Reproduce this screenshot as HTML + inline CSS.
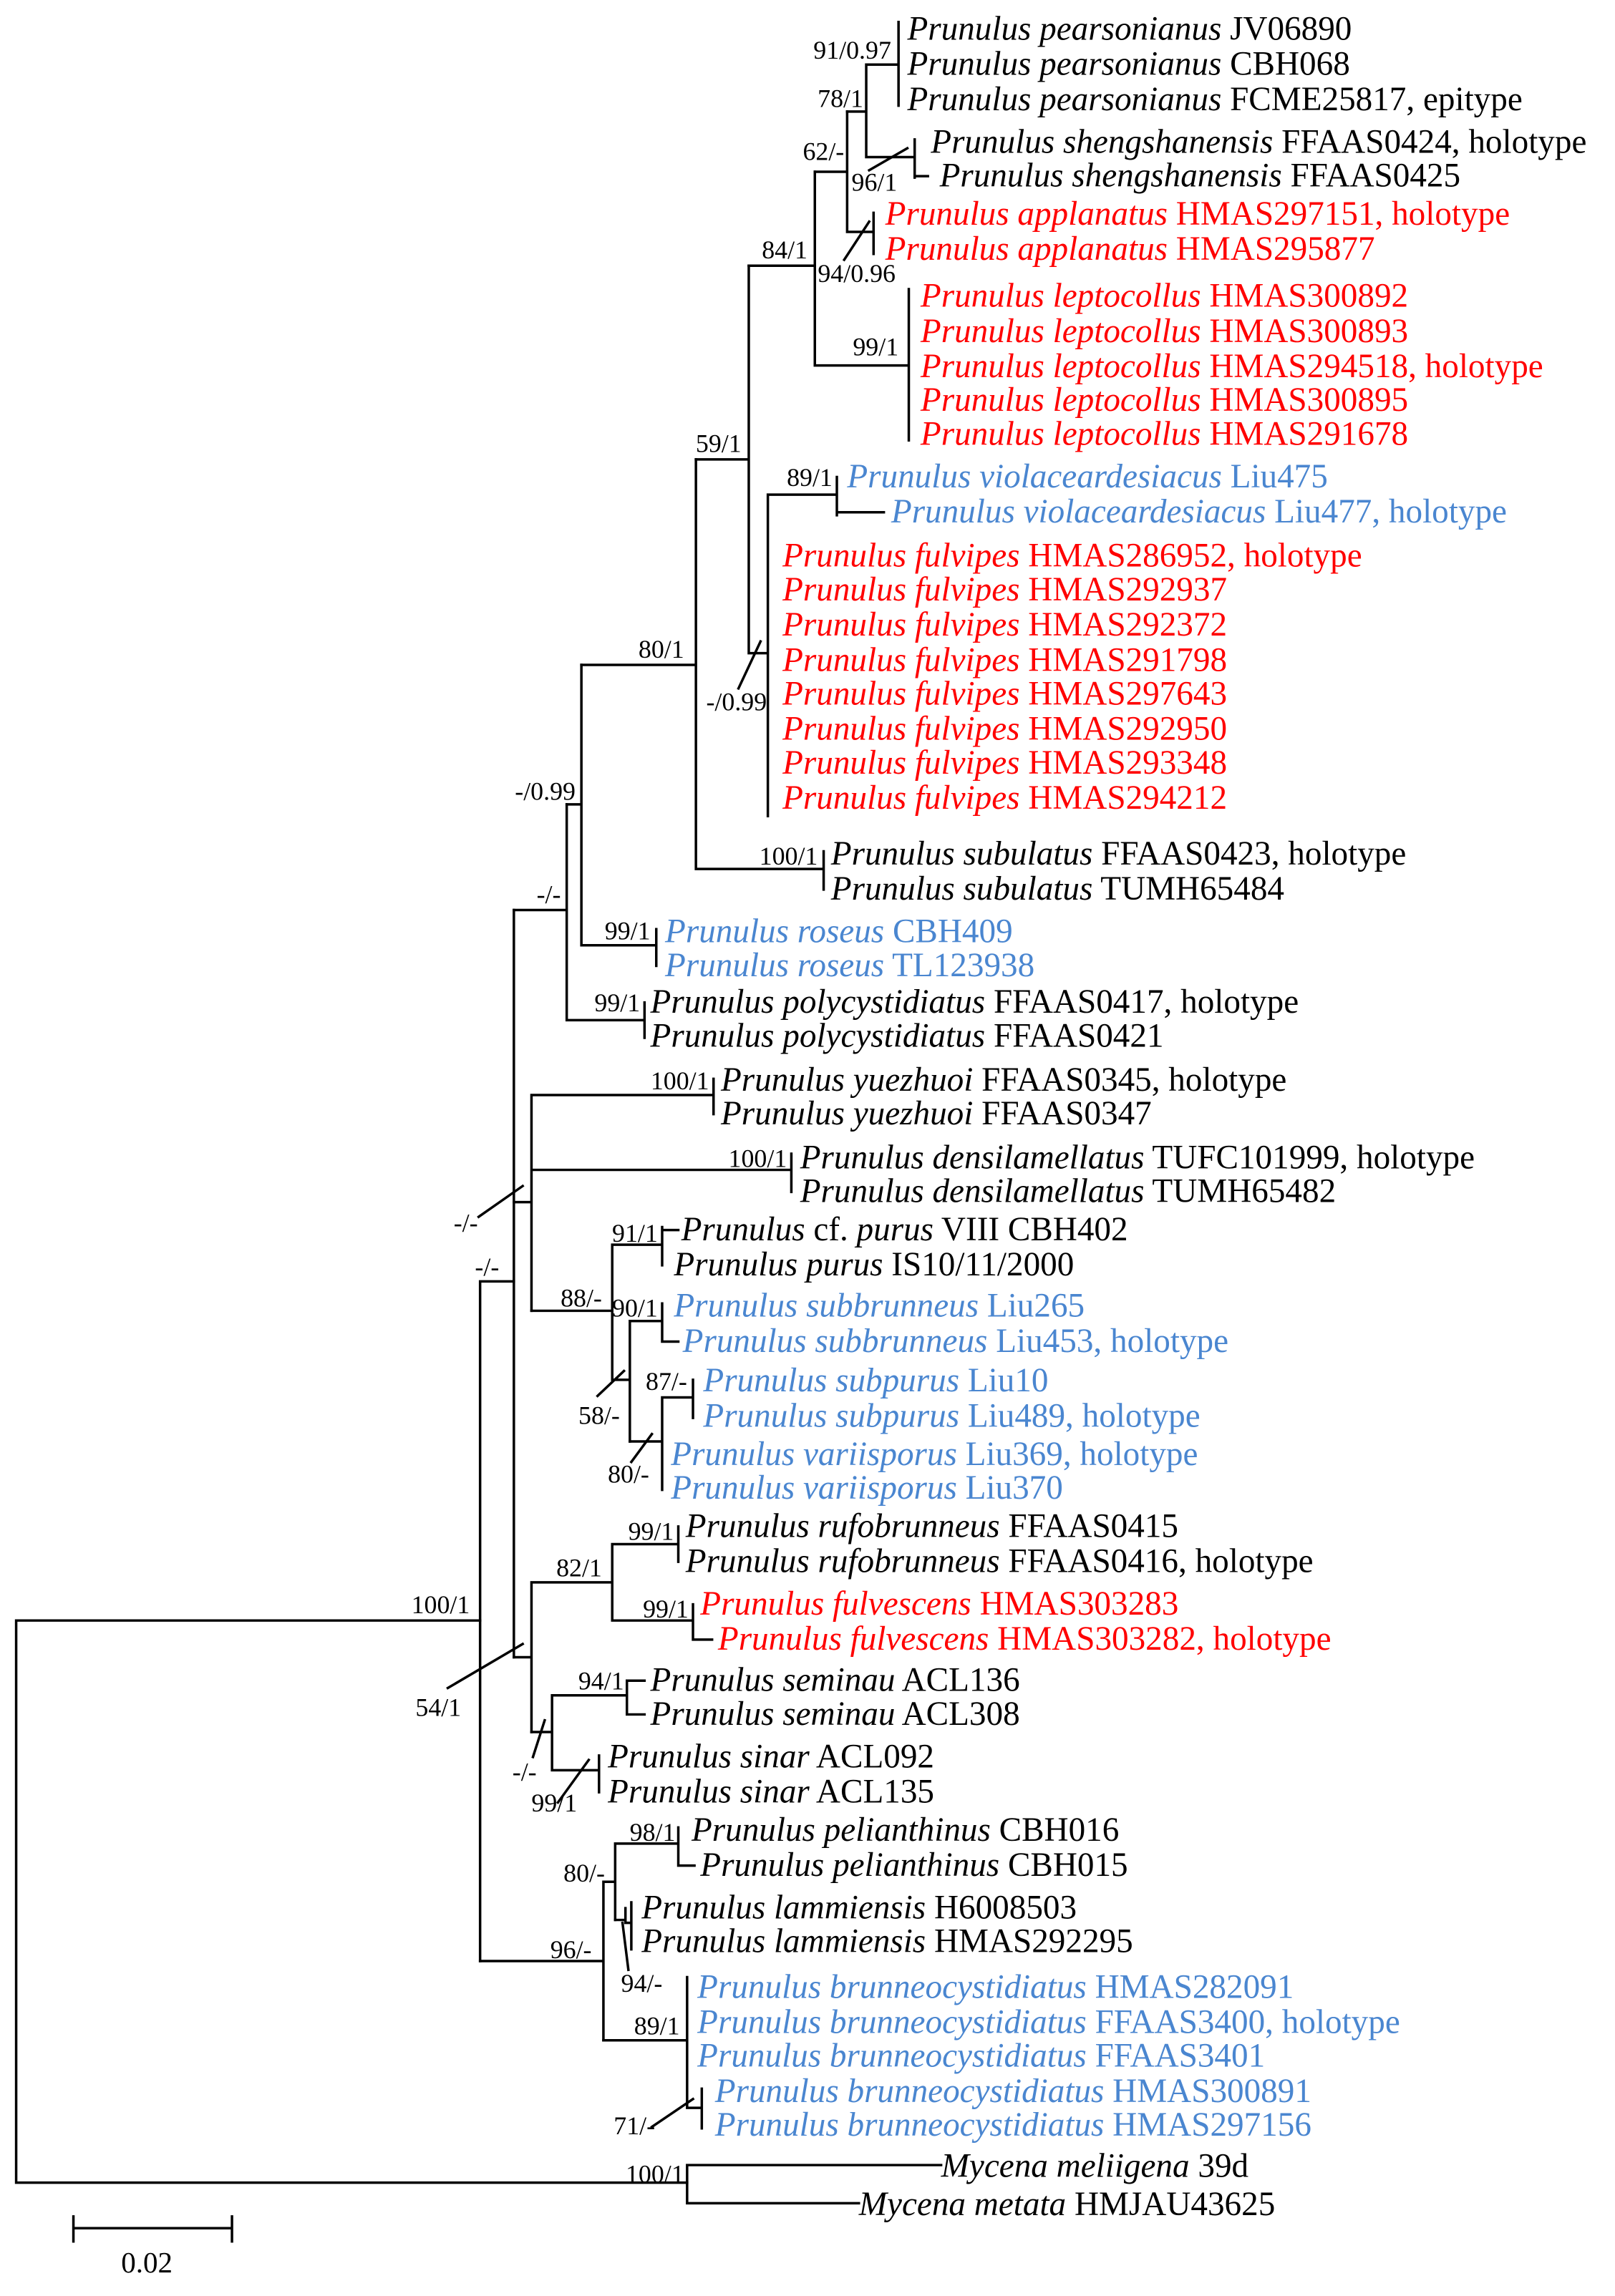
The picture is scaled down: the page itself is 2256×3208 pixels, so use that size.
<!DOCTYPE html>
<html><head><meta charset="utf-8"><style>
html,body{margin:0;padding:0;background:#fff}
svg{display:block}
text{font-family:"Liberation Serif",serif}
.l{font-size:23px}
.s{font-size:17.5px}
.r{fill:#ff0000}.b{fill:#4a86d0}
</style></head><body>
<svg width="2256" height="3208" viewBox="0 0 1100 1564.2" xmlns="http://www.w3.org/2000/svg">
<g stroke="#000" stroke-width="1.7" fill="none" stroke-linecap="square">
<!-- root -->
<path d="M11,1104 V1487 M11,1104 H327 M11,1487 H468"/>
<path d="M468,1475 V1501 M468,1475 H641 M468,1501 H585"/>
<!-- node A -->
<path d="M327,873 V1336 M327,873 H350"/>
<path d="M350,620 V1129"/>
<!-- node C -->
<path d="M350,620 H386 M386,548 V695 M386,695 H439 M439,683 V707"/>
<path d="M386,548 H396 M396,453 V644 M396,644 H447 M447,633 V658"/>
<path d="M396,453 H474 M474,313 V592 M474,592 H561 M561,580 V606"/>
<path d="M474,313 H510 M510,181 V445 M510,445 H523 M523,337 V556 M523,337 H570 M570,325 V351 M570,349 H602"/>
<path d="M510,181 H555 M555,117 V249 M555,249 H619 M619,197 V300"/>
<path d="M555,117 H577 M577,76 V158 M577,158 H595 M595,145 V173"/>
<path d="M577,76 H590 M590,44 V107 M590,44 H612 M612,15 V72 M590,107 H623 M623,95 V121 M623,120 H632"/>
<!-- node E -->
<path d="M350,819 H362 M362,746 V893 M362,746 H486 M486,735 V759 M362,797 H539 M539,786 V812"/>
<path d="M362,893 H417 M417,848 V940 M417,848 H451 M451,836 V862 M451,838 H462"/>
<path d="M417,940 H429 M429,900 V982 M429,900 H451 M451,888 V914 M451,914 H462"/>
<path d="M429,982 H451 M451,952 V1015 M451,952 H472 M472,940 V966"/>
<!-- node I -->
<path d="M350,1129 H362 M362,1078 V1180 M362,1078 H417 M417,1052 V1104 M417,1052 H462 M462,1040 V1064 M417,1104 H472 M472,1093 V1117 M472,1117 H485"/>
<path d="M362,1180 H376 M376,1155 V1206 M376,1155 H427 M427,1145 V1168 M427,1145 H439 M427,1168 H439 M376,1206 H408 M408,1196 V1221"/>
<!-- node L -->
<path d="M327,1336 H411 M411,1282 V1390 M411,1282 H419 M419,1256 V1308 M419,1256 H462 M462,1245 V1271 M462,1271 H473"/>
<path d="M419,1308 H426 M430,1296 V1328 M426,1300 V1310 M426,1310 H430"/>
<path d="M411,1390 H468 M468,1347 V1436 M468,1436 H478 M478,1423 V1450"/>
<!-- slashes -->
<path d="M592,116 L618,101 M575,177 L592,151 M503,469 L518,437 M326,829 L356,808 M407,951 L425,934 M430,996 L444,977 M305,1150 L356,1120 M363,1197 L371,1172 M380,1228 L401,1199 M428,1342 L424,1310 M444,1449 L472,1430"/>
<!-- scale -->
<path d="M50,1518 H158 M50,1510 V1527 M158,1510 V1527"/>
</g>
<text class="s" x="100" y="1548" text-anchor="middle" style="font-size:20px">0.02</text>
<g class="s" text-anchor="end">
<text x="607" y="40">91/0.97</text>
<text x="588" y="73">78/1</text>
<text x="575" y="109">62/-</text>
<text x="550" y="176">84/1</text>
<text x="612" y="242">99/1</text>
<text x="505" y="308">59/1</text>
<text x="567" y="331">89/1</text>
<text x="466" y="448">80/1</text>
<text x="392" y="545">-/0.99</text>
<text x="557" y="589">100/1</text>
<text x="382" y="615">-/-</text>
<text x="443" y="640">99/1</text>
<text x="436" y="689">99/1</text>
<text x="483" y="742">100/1</text>
<text x="536" y="795">100/1</text>
<text x="340" y="869">-/-</text>
<text x="448" y="846">91/1</text>
<text x="410" y="890">88/-</text>
<text x="448" y="897">90/1</text>
<text x="468" y="947">87/-</text>
<text x="459" y="1049">99/1</text>
<text x="410" y="1074">82/1</text>
<text x="469" y="1102">99/1</text>
<text x="320" y="1099">100/1</text>
<text x="425" y="1151">94/1</text>
<text x="460" y="1254">98/1</text>
<text x="412" y="1282">80/-</text>
<text x="403" y="1334">96/-</text>
<text x="463" y="1386">89/1</text>
<text x="466" y="1487">100/1</text>
</g>
<g class="s">
<text x="580" y="130">96/1</text>
<text x="557" y="192">94/0.96</text>
<text x="481" y="484">-/0.99</text>
<text x="309" y="839">-/-</text>
<text x="394" y="970">58/-</text>
<text x="414" y="1010">80/-</text>
<text x="283" y="1169">54/1</text>
<text x="349" y="1213">-/-</text>
<text x="362" y="1234">99/1</text>
<text x="423" y="1357">94/-</text>
<text x="418" y="1454">71/-</text>
</g>
<g class="l">
<text x="618" y="27"><tspan font-style="italic">Prunulus pearsonianus</tspan> JV06890</text>
<text x="618" y="51"><tspan font-style="italic">Prunulus pearsonianus</tspan> CBH068</text>
<text x="618" y="75"><tspan font-style="italic">Prunulus pearsonianus</tspan> FCME25817, epitype</text>
<text x="634" y="104"><tspan font-style="italic">Prunulus shengshanensis</tspan> FFAAS0424, holotype</text>
<text x="640" y="127"><tspan font-style="italic">Prunulus shengshanensis</tspan> FFAAS0425</text>
<text class="r" x="603" y="153"><tspan font-style="italic">Prunulus applanatus</tspan> HMAS297151, holotype</text>
<text class="r" x="603" y="177"><tspan font-style="italic">Prunulus applanatus</tspan> HMAS295877</text>
<text class="r" x="627" y="209"><tspan font-style="italic">Prunulus leptocollus</tspan> HMAS300892</text>
<text class="r" x="627" y="233"><tspan font-style="italic">Prunulus leptocollus</tspan> HMAS300893</text>
<text class="r" x="627" y="257"><tspan font-style="italic">Prunulus leptocollus</tspan> HMAS294518, holotype</text>
<text class="r" x="627" y="280"><tspan font-style="italic">Prunulus leptocollus</tspan> HMAS300895</text>
<text class="r" x="627" y="303"><tspan font-style="italic">Prunulus leptocollus</tspan> HMAS291678</text>
<text class="b" x="577" y="332"><tspan font-style="italic">Prunulus violaceardesiacus</tspan> Liu475</text>
<text class="b" x="607" y="356"><tspan font-style="italic">Prunulus violaceardesiacus</tspan> Liu477, holotype</text>
<text class="r" x="533" y="386"><tspan font-style="italic">Prunulus fulvipes</tspan> HMAS286952, holotype</text>
<text class="r" x="533" y="409"><tspan font-style="italic">Prunulus fulvipes</tspan> HMAS292937</text>
<text class="r" x="533" y="433"><tspan font-style="italic">Prunulus fulvipes</tspan> HMAS292372</text>
<text class="r" x="533" y="457"><tspan font-style="italic">Prunulus fulvipes</tspan> HMAS291798</text>
<text class="r" x="533" y="480"><tspan font-style="italic">Prunulus fulvipes</tspan> HMAS297643</text>
<text class="r" x="533" y="504"><tspan font-style="italic">Prunulus fulvipes</tspan> HMAS292950</text>
<text class="r" x="533" y="527"><tspan font-style="italic">Prunulus fulvipes</tspan> HMAS293348</text>
<text class="r" x="533" y="551"><tspan font-style="italic">Prunulus fulvipes</tspan> HMAS294212</text>
<text x="566" y="589"><tspan font-style="italic">Prunulus subulatus</tspan> FFAAS0423, holotype</text>
<text x="566" y="613"><tspan font-style="italic">Prunulus subulatus</tspan> TUMH65484</text>
<text class="b" x="453" y="642"><tspan font-style="italic">Prunulus roseus</tspan> CBH409</text>
<text class="b" x="453" y="665"><tspan font-style="italic">Prunulus roseus</tspan> TL123938</text>
<text x="443" y="690"><tspan font-style="italic">Prunulus polycystidiatus</tspan> FFAAS0417, holotype</text>
<text x="443" y="713"><tspan font-style="italic">Prunulus polycystidiatus</tspan> FFAAS0421</text>
<text x="491" y="743"><tspan font-style="italic">Prunulus yuezhuoi</tspan> FFAAS0345, holotype</text>
<text x="491" y="766"><tspan font-style="italic">Prunulus yuezhuoi</tspan> FFAAS0347</text>
<text x="545" y="796"><tspan font-style="italic">Prunulus densilamellatus</tspan> TUFC101999, holotype</text>
<text x="545" y="819"><tspan font-style="italic">Prunulus densilamellatus</tspan> TUMH65482</text>
<text x="464" y="845"><tspan font-style="italic">Prunulus</tspan> cf. <tspan font-style="italic">purus</tspan> VIII CBH402</text>
<text x="459" y="869"><tspan font-style="italic">Prunulus purus</tspan> IS10/11/2000</text>
<text class="b" x="459" y="897"><tspan font-style="italic">Prunulus subbrunneus</tspan> Liu265</text>
<text class="b" x="465" y="921"><tspan font-style="italic">Prunulus subbrunneus</tspan> Liu453, holotype</text>
<text class="b" x="479" y="948"><tspan font-style="italic">Prunulus subpurus</tspan> Liu10</text>
<text class="b" x="479" y="972"><tspan font-style="italic">Prunulus subpurus</tspan> Liu489, holotype</text>
<text class="b" x="457" y="998"><tspan font-style="italic">Prunulus variisporus</tspan> Liu369, holotype</text>
<text class="b" x="457" y="1021"><tspan font-style="italic">Prunulus variisporus</tspan> Liu370</text>
<text x="467" y="1047"><tspan font-style="italic">Prunulus rufobrunneus</tspan> FFAAS0415</text>
<text x="467" y="1071"><tspan font-style="italic">Prunulus rufobrunneus</tspan> FFAAS0416, holotype</text>
<text class="r" x="477" y="1100"><tspan font-style="italic">Prunulus fulvescens</tspan> HMAS303283</text>
<text class="r" x="489" y="1124"><tspan font-style="italic">Prunulus fulvescens</tspan> HMAS303282, holotype</text>
<text x="443" y="1152"><tspan font-style="italic">Prunulus seminau</tspan> ACL136</text>
<text x="443" y="1175"><tspan font-style="italic">Prunulus seminau</tspan> ACL308</text>
<text x="414" y="1204"><tspan font-style="italic">Prunulus sinar</tspan> ACL092</text>
<text x="414" y="1228"><tspan font-style="italic">Prunulus sinar</tspan> ACL135</text>
<text x="471" y="1254"><tspan font-style="italic">Prunulus pelianthinus</tspan> CBH016</text>
<text x="477" y="1278"><tspan font-style="italic">Prunulus pelianthinus</tspan> CBH015</text>
<text x="437" y="1307"><tspan font-style="italic">Prunulus lammiensis</tspan> H6008503</text>
<text x="437" y="1330"><tspan font-style="italic">Prunulus lammiensis</tspan> HMAS292295</text>
<text class="b" x="475" y="1361"><tspan font-style="italic">Prunulus brunneocystidiatus</tspan> HMAS282091</text>
<text class="b" x="475" y="1385"><tspan font-style="italic">Prunulus brunneocystidiatus</tspan> FFAAS3400, holotype</text>
<text class="b" x="475" y="1408"><tspan font-style="italic">Prunulus brunneocystidiatus</tspan> FFAAS3401</text>
<text class="b" x="487" y="1432"><tspan font-style="italic">Prunulus brunneocystidiatus</tspan> HMAS300891</text>
<text class="b" x="487" y="1455"><tspan font-style="italic">Prunulus brunneocystidiatus</tspan> HMAS297156</text>
<text x="641" y="1483"><tspan font-style="italic">Mycena meliigena</tspan> 39d</text>
<text x="585" y="1509"><tspan font-style="italic">Mycena metata</tspan> HMJAU43625</text>
</g>
</svg>
</body></html>
